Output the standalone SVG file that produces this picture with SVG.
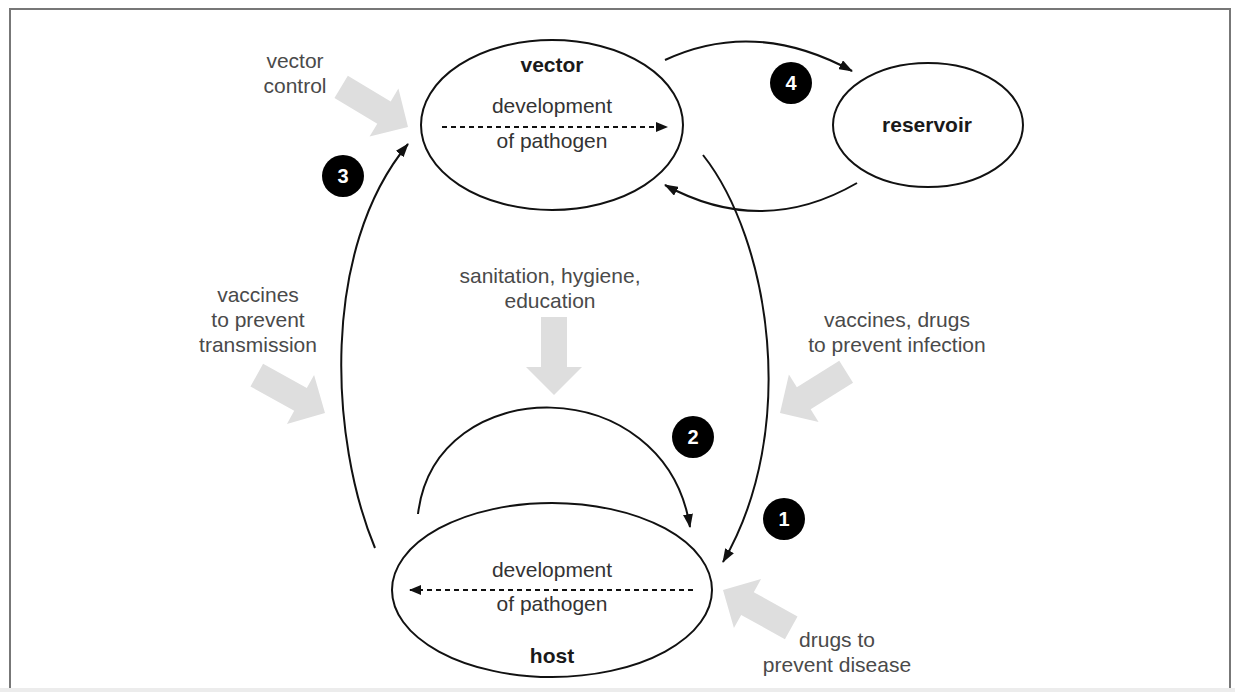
<svg xmlns="http://www.w3.org/2000/svg" width="1235" height="692" viewBox="0 0 1235 692">
<style>
.lbl{font-family:"Liberation Sans",Arial,sans-serif;font-size:21px;fill:#4a4a4a;text-anchor:middle}
.nm{font-family:"Liberation Sans",Arial,sans-serif;font-size:21px;font-weight:bold;fill:#1a1a1a;text-anchor:middle}
.in{font-family:"Liberation Sans",Arial,sans-serif;font-size:21px;fill:#333;text-anchor:middle}
.num{font-family:"Liberation Sans",Arial,sans-serif;font-size:20px;font-weight:bold;fill:#fff;text-anchor:middle}
.node{fill:#fff;stroke:#111;stroke-width:2}
.con{fill:none;stroke:#111;stroke-width:2}
.dash{fill:none;stroke:#111;stroke-width:2;stroke-dasharray:5 4}
.blk{fill:#dedede}
</style>
<defs>
<marker id="ah" viewBox="0 0 14 10" refX="13" refY="5" markerWidth="14" markerHeight="10" markerUnits="userSpaceOnUse" orient="auto"><path d="M0,0 L14,5 L0,10 Z" fill="#111"/></marker>
<marker id="ahs" viewBox="0 0 12 10" refX="11" refY="5" markerWidth="12" markerHeight="10" markerUnits="userSpaceOnUse" orient="auto"><path d="M0,0 L12,5 L0,10 Z" fill="#111"/></marker>
<path id="block" d="M0,0 L-28,-28 L-28,-13 L-78,-13 L-78,13 L-28,13 L-28,28 Z"/>
</defs>
<rect x="0" y="0" width="1235" height="692" fill="#fff"/>
<rect x="10" y="9" width="1220" height="700" fill="none" stroke="#777" stroke-width="2"/>
<rect x="0" y="688" width="1235" height="4" fill="#ececec"/>

<g id="interventions">
<use href="#block" class="blk" transform="translate(408,127) rotate(31)"/>
<use href="#block" class="blk" transform="translate(325,413) rotate(29)"/>
<use href="#block" class="blk" transform="translate(554,395) rotate(90)"/>
<use href="#block" class="blk" transform="translate(780,413) rotate(148)"/>
<use href="#block" class="blk" transform="translate(723,590) rotate(209)"/>
<text class="lbl" x="295" y="68">vector</text>
<text class="lbl" x="295" y="93">control</text>
<text class="lbl" x="258" y="302">vaccines</text>
<text class="lbl" x="258" y="327">to prevent</text>
<text class="lbl" x="258" y="352">transmission</text>
<text class="lbl" x="550" y="283">sanitation, hygiene,</text>
<text class="lbl" x="550" y="308">education</text>
<text class="lbl" x="897" y="327">vaccines, drugs</text>
<text class="lbl" x="897" y="352">to prevent infection</text>
<text class="lbl" x="837" y="647">drugs to</text>
<text class="lbl" x="837" y="672">prevent disease</text>
</g>

<g id="vector">
<ellipse class="node" cx="552" cy="125" rx="131" ry="85"/>
<text class="nm" x="552" y="72">vector</text>
<text class="in" x="552" y="113">development</text>
<text class="in" x="552" y="148">of pathogen</text>
<path class="dash" d="M442,127 L667,127" marker-end="url(#ahs)"/>
</g>

<g id="reservoir">
<ellipse class="node" cx="928" cy="125" rx="95" ry="62"/>
<text class="nm" x="927" y="132">reservoir</text>
</g>

<g id="host">
<ellipse class="node" cx="552" cy="590" rx="160" ry="87"/>
<text class="in" x="552" y="577">development</text>
<text class="in" x="552" y="611">of pathogen</text>
<text class="nm" x="552" y="663">host</text>
<path class="dash" d="M693,590 L410,590" marker-end="url(#ahs)"/>
</g>

<g id="connectors">
<path class="con" d="M703,155 C770,240 800,430 723,562" marker-end="url(#ah)"/>
<path class="con" d="M418,514 C435,370 665,370 690,527" marker-end="url(#ah)"/>
<path class="con" d="M375,548 C330,440 320,250 408,144" marker-end="url(#ah)"/>
<path class="con" d="M665,60 Q755,18 852,71" marker-end="url(#ah)"/>
<path class="con" d="M857,183 Q762,238 665,185" marker-end="url(#ah)"/>
</g>

<g id="badges">
<circle cx="784" cy="519" r="21" fill="#000"/><text class="num" x="784" y="526">1</text>
<circle cx="693" cy="437" r="21" fill="#000"/><text class="num" x="693" y="444">2</text>
<circle cx="343" cy="176" r="21" fill="#000"/><text class="num" x="343" y="183">3</text>
<circle cx="791" cy="83" r="21" fill="#000"/><text class="num" x="791" y="90">4</text>
</g>
</svg>
